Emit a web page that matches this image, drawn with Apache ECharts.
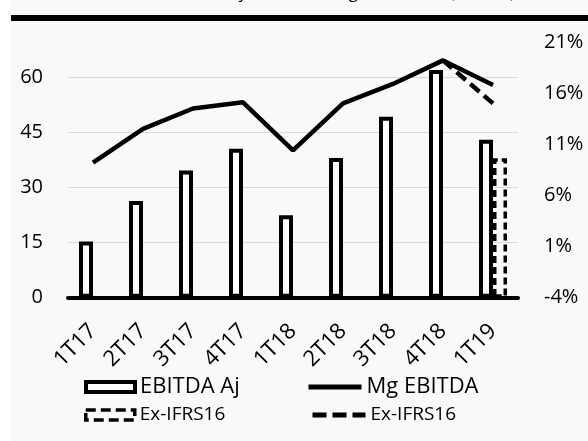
<!DOCTYPE html>
<html>
<head>
<meta charset="utf-8">
<script src="https://cdn.jsdelivr.net/npm/echarts@6/dist/echarts.min.js"></script>
<style>
  html, body { margin: 0; padding: 0; background: #ffffff; }
  #chart { width: 588px; height: 441px; }
</style>
</head>
<body>
<div id="chart"></div>
<script>
// ---- data ----
const categories = ['1T17', '2T17', '3T17', '4T17', '1T18', '2T18', '3T18', '4T18', '1T19'];
const ebitdaAj = [15.3, 26.3, 34.6, 40.5, 22.4, 38.0, 49.2, 61.9, 42.9];
const ebitdaAjExIfrs = [null, null, null, null, null, null, null, null, 37.9];
const mgEbitda = [9.2, 12.5, 14.5, 15.1, 10.4, 15.0, 16.9, 19.2, 16.8];
const mgEbitdaExIfrs = [null, null, null, null, null, null, null, 19.2, 15.0];
const leftTicks = { min: 0, max: 69.5, interval: 15 };
const rightTicks = { min: -4, max: 21, interval: 5 };
const titleText = 'EBITDA Ajustado e Margem EBITDA (R$ MM)';

const FONT = 'Open Sans';
const chart = echarts.init(document.getElementById('chart'), null, { renderer: 'canvas' });

const option = {
  backgroundColor: '#ffffff',
  animation: false,
  textStyle: { fontFamily: FONT, color: '#000' },
  graphic: [
    { type: 'rect', z: -10, shape: { x: 11, y: 0, width: 577, height: 441 }, style: { fill: '#f9f9f9' }, silent: true },
    { type: 'rect', z: 10, shape: { x: 11, y: 15, width: 577, height: 6 }, style: { fill: '#000' }, silent: true },
    { type: 'text', z: 5, x: 167, y: -7, style: { text: titleText, font: '17px "Open Sans"', fill: '#000', verticalAlign: 'middle' }, silent: true }
  ],
  grid: { left: 68, right: 70, top: 42, bottom: 143.3, containLabel: false },
  legend: [
    {
      data: ['EBITDA Aj'], left: 84, top: 375, padding: 0,
      icon: 'rect',
      itemWidth: 49, itemHeight: 10,
      itemStyle: { borderWidth: 4, borderColor: '#000', color: '#fff' },
      textStyle: { fontSize: 22, lineHeight: 24, color: '#000', fontFamily: FONT },
      selectedMode: false
    },
    {
      data: ['Mg EBITDA'], left: 306, top: 375, padding: 0,
      icon: 'inherit',
      itemWidth: 53, itemHeight: 12,
      lineStyle: { width: 5, color: '#000' },
      itemStyle: { opacity: 0 },
      textStyle: { fontSize: 22, lineHeight: 24, color: '#000', fontFamily: FONT },
      selectedMode: false
    },
    {
      data: ['EBITDA Aj Ex-IFRS16'], left: 84, top: 404, padding: 0,
      icon: 'rect',
      itemWidth: 49, itemHeight: 10,
      itemStyle: { borderWidth: 3.5, borderColor: '#000', color: 'rgba(255,255,255,0)', borderType: [10, 5] },
      formatter: function () { return 'Ex-IFRS16'; },
      textStyle: { fontSize: 19, lineHeight: 22, color: '#000', fontFamily: FONT },
      selectedMode: false
    },
    {
      data: ['Mg EBITDA Ex-IFRS16'], left: 310, top: 404, padding: 0,
      icon: 'inherit',
      itemWidth: 53, itemHeight: 12,
      lineStyle: { width: 5, color: '#000', type: [14, 6] },
      itemStyle: { opacity: 0 },
      formatter: function () { return 'Ex-IFRS16'; },
      textStyle: { fontSize: 19, lineHeight: 22, color: '#000', fontFamily: FONT },
      selectedMode: false
    }
  ],
  xAxis: {
    type: 'category',
    data: categories,
    boundaryGap: true,
    axisLine: { show: true, lineStyle: { color: '#000', width: 4 } },
    axisTick: { show: false },
    axisLabel: { rotate: 45, margin: 30, fontSize: 22, color: '#000', fontFamily: FONT, interval: 0 },
    splitLine: { show: false }
  },
  yAxis: [
    {
      type: 'value',
      min: leftTicks.min, max: leftTicks.max, interval: leftTicks.interval,
      axisLine: { show: false },
      axisTick: { show: false },
      axisLabel: { fontSize: 20, color: '#000', margin: 25, fontFamily: FONT, showMaxLabel: false },
      splitLine: { show: true, showMinLine: false, showMaxLine: false, lineStyle: { color: '#d9d9d9', width: 1.2 } }
    },
    {
      type: 'value',
      position: 'right',
      min: rightTicks.min, max: rightTicks.max, interval: rightTicks.interval,
      axisLine: { show: false },
      axisTick: { show: false },
      axisLabel: { fontSize: 20, color: '#000', margin: 26, fontFamily: FONT, formatter: '{value}%' },
      splitLine: { show: false }
    }
  ],
  series: [
    {
      name: 'EBITDA Aj',
      type: 'bar',
      yAxisIndex: 0,
      data: ebitdaAj,
      barWidth: 14,
      barGap: '0%',
      itemStyle: { color: '#ffffff', borderColor: '#000', borderWidth: 4 },
      z: 2
    },
    {
      name: 'EBITDA Aj Ex-IFRS16',
      type: 'bar',
      yAxisIndex: 0,
      data: ebitdaAjExIfrs,
      barWidth: 14,
      barGap: '0%',
      itemStyle: { color: 'rgba(255,255,255,0)', borderColor: '#000', borderWidth: 3.5, borderType: [7, 4] },
      z: 1
    },
    {
      name: 'Mg EBITDA',
      type: 'line',
      yAxisIndex: 1,
      data: mgEbitda,
      symbol: 'none',
      showSymbol: false,
      lineStyle: { color: '#000', width: 4.5 },
      itemStyle: { color: '#000' },
      z: 4
    },
    {
      name: 'Mg EBITDA Ex-IFRS16',
      type: 'line',
      yAxisIndex: 1,
      data: mgEbitdaExIfrs,
      symbol: 'none',
      showSymbol: false,
      connectNulls: false,
      lineStyle: { color: '#000', width: 4.5, type: [12, 6] },
      itemStyle: { color: '#000' },
      z: 3
    }
  ]
};
chart.setOption(option);
</script>
</body>
</html>
